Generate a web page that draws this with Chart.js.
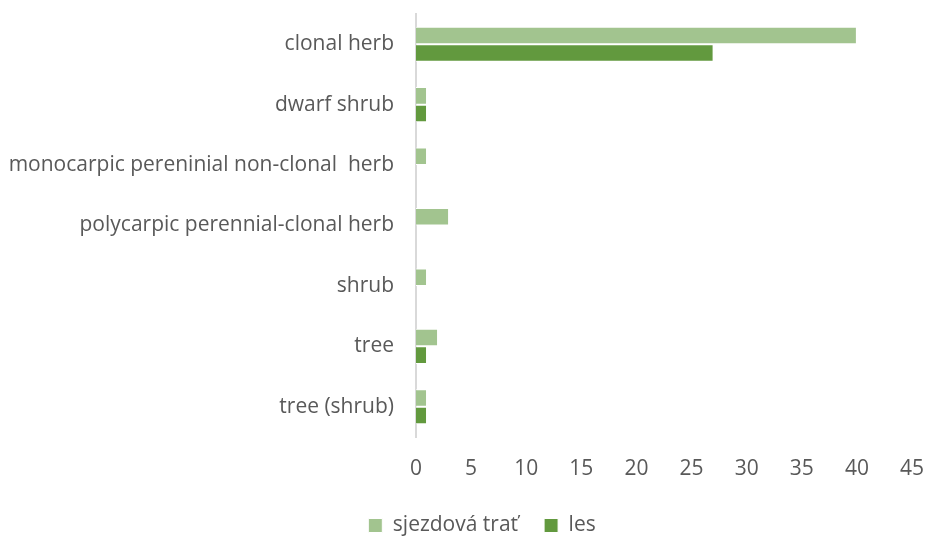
<!DOCTYPE html>
<html>
<head>
<meta charset="utf-8">
<script src="https://cdn.jsdelivr.net/npm/chart.js@4"></script>
<style>
  html, body { margin: 0; padding: 0; background: #fff; }
  #wrap { width: 926px; height: 536px; position: relative; }
</style>
</head>
<body>
<div id="wrap"><canvas id="myChart" width="926" height="536"></canvas></div>
<script>
// data
const categories = [
  "clonal herb",
  "dwarf shrub",
  "monocarpic pereninial non-clonal  herb",
  "polycarpic perennial-clonal herb",
  "shrub",
  "tree",
  "tree (shrub)"
];
const sjezdovaTrat = [40, 1, 1, 3, 1, 2, 1];
const les = [27, 1, 0, 0, 0, 1, 1];
const xTicks = [0, 5, 10, 15, 20, 25, 30, 35, 40, 45];

const labelColor = "#595959";
const fontFamily = "'Open Sans', sans-serif";
const fontSize = 21;

// legend sits a bit right of centre in the reference
const legendShift = {
  id: "legendShift",
  afterUpdate(chart) {
    chart.legend.left += 26;
    chart.legend.right += 26;
  },
};

const ctx = document.getElementById("myChart");
new Chart(ctx, {
  type: "bar",
  data: {
    labels: categories,
    datasets: [
      {
        label: "sjezdová trať",
        data: sjezdovaTrat,
        backgroundColor: "#a2c48f",
        borderColor: "#ffffff",
        borderWidth: 1,
        categoryPercentage: 0.58,
        barPercentage: 1.0,
      },
      {
        label: "les",
        data: les,
        backgroundColor: "#62993e",
        borderColor: "#ffffff",
        borderWidth: 1,
        categoryPercentage: 0.58,
        barPercentage: 1.0,
      },
    ],
  },
  plugins: [legendShift],
  options: {
    indexAxis: "y",
    responsive: false,
    animation: false,
    layout: {
      padding: { top: 14, right: 14, bottom: -10, left: 0 },
    },
    plugins: {
      legend: {
        position: "bottom",
        labels: {
          boxWidth: 14,
          boxHeight: 14,
          padding: 26,
          color: labelColor,
          font: { size: fontSize, family: fontFamily },
        },
      },
      tooltip: { enabled: false },
    },
    scales: {
      x: {
        min: 0,
        max: 45,
        afterBuildTicks: (scale) => {
          scale.ticks = xTicks.map((v) => ({ value: v }));
        },
        afterFit: (scale) => {
          scale.paddingLeft = 0;
          scale.paddingRight = 0;
          scale.height = 52;
        },
        grid: { display: false },
        border: { display: false },
        ticks: {
          color: labelColor,
          padding: 11,
          font: { size: fontSize, family: fontFamily },
        },
      },
      y: {
        grid: { display: false, drawTicks: false },
        border: { display: true, color: "#d9d9d9", width: 2 },
        afterFit: (scale) => {
          scale.width = 416;
          scale.paddingTop = 0;
          scale.paddingBottom = 0;
        },
        ticks: {
          color: labelColor,
          padding: 22,
          font: { size: fontSize, family: fontFamily },
        },
      },
    },
  },
});
</script>
</body>
</html>
